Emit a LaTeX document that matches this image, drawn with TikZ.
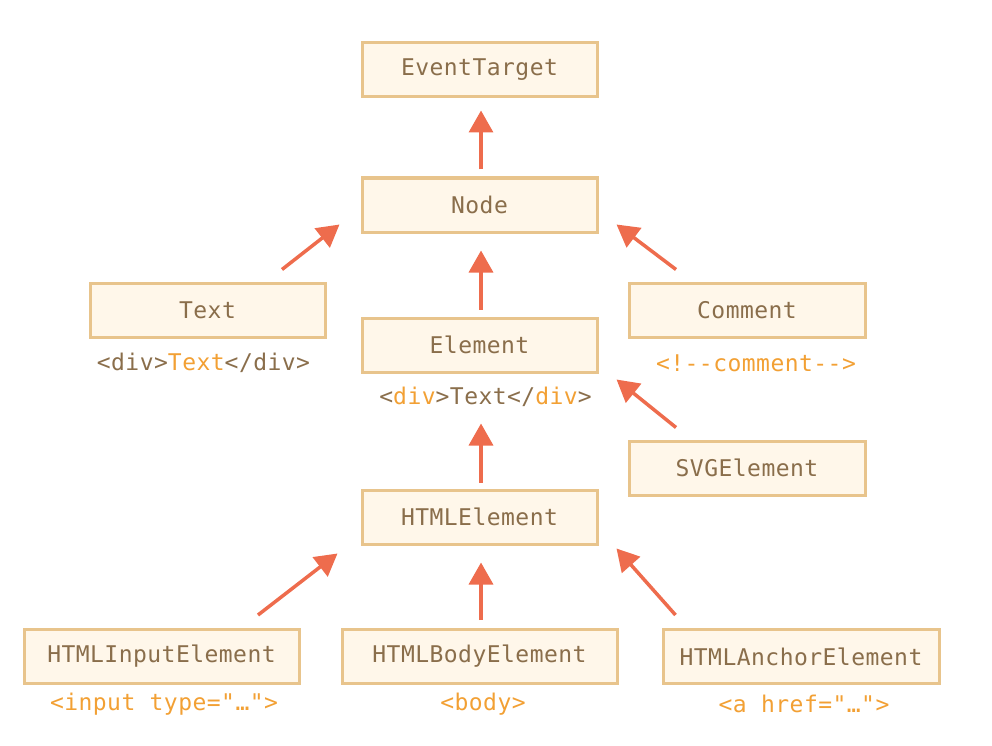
\documentclass[tikz,border=0pt]{standalone}
\usepackage{fontspec}
\setmonofont[LetterSpace=2]{DejaVu Sans Mono}
\usetikzlibrary{arrows.meta}
\definecolor{boxborder}{RGB}{232,196,140}
\definecolor{boxfill}{RGB}{255,247,234}
\definecolor{txtbrown}{RGB}{138,110,75}
\definecolor{txtorange}{RGB}{242,160,52}
\definecolor{arrowred}{RGB}{238,108,77}
\tikzset{
  cls/.style={draw=boxborder, fill=boxfill, line width=3pt, minimum height=54pt, inner sep=0pt,
    font=\fontsize{23}{27}\selectfont\ttfamily, text=txtbrown},
  lbl/.style={inner sep=0pt, font=\fontsize{23}{27}\selectfont\ttfamily, text=txtbrown},
  arr/.style={draw=arrowred, line width=3.5pt, -{Triangle[length=22pt,width=24pt]}},
}
\begin{document}
\begin{tikzpicture}[x=1pt,y=-1pt]
\useasboundingbox (0,0) rectangle (992,746);
\node[cls, minimum width=235pt] (et) at (479.5,70) {EventTarget};
\node[cls, minimum width=235pt] (nd) at (479.5,205) {Node};
\node[cls, minimum width=235pt] (tx) at (207.5,310) {Text};
\node[cls, minimum width=236pt] (cm) at (747,310) {Comment};
\node[cls, minimum width=235pt] (el) at (479.5,345) {Element};
\node[cls, minimum width=236pt] (svg) at (747,468) {SVGElement};
\node[cls, minimum width=235pt] (he) at (479.5,517) {HTMLElement};
\node[cls, minimum width=275pt] (hi) at (161.5,656.5) {HTMLInputElement};
\node[cls, minimum width=275pt] (hb) at (479.5,656.5) {HTMLBodyElement};
\node[cls, minimum width=276pt] (ha) at (801,656.5) {HTMLAnchorElement};

\node[lbl] (txl) at (203.5,363) {<div>\textcolor{txtorange}{Text}</div>};
\node[lbl, text=txtorange] (cml) at (756,363) {<!--comment-->};
\node[lbl] (ell) at (485.5,397) {<\textcolor{txtorange}{div}>Text</\textcolor{txtorange}{div}>};
\node[lbl, text=txtorange] (hil) at (164,704) {<input type="…">};
\node[lbl, text=txtorange] (hbl) at (483,704) {<body>};
\node[lbl, text=txtorange] (hal) at (804,704) {<a href="…">};

\draw[arr] ([xshift=1.5pt,yshift=7pt]nd.north) -- ([xshift=1.5pt,yshift=-12pt]et.south);
\draw[arr] ([xshift=1.5pt,yshift=7pt]el.north) -- ([xshift=1.5pt,yshift=-17pt]nd.south);
\draw[arr] ([xshift=74.5pt,yshift=12pt]tx.north) -- ([xshift=-21pt,yshift=9pt]nd.south west);
\draw[arr] ([xshift=-71pt,yshift=12pt]cm.north) -- ([xshift=18pt,yshift=9pt]nd.south east);
\draw[arr] ([xshift=-71pt,yshift=12pt]svg.north) -- ([xshift=18pt,yshift=-6pt]el.south east);
\draw[arr] ([xshift=1.5pt,yshift=6pt]he.north) -- ([xshift=1.5pt,yshift=-50pt]el.south);
\draw[arr] ([xshift=96.5pt,yshift=13pt]hi.north) -- ([xshift=-23pt,yshift=-8pt]he.south west);
\draw[arr] ([xshift=1.5pt,yshift=8pt]hb.north) -- ([xshift=1.5pt,yshift=-17pt]he.south);
\draw[arr] ([xshift=14pt,yshift=13pt]ha.north west) -- ([xshift=18pt,yshift=-3pt]he.south east);
\end{tikzpicture}
\end{document}
